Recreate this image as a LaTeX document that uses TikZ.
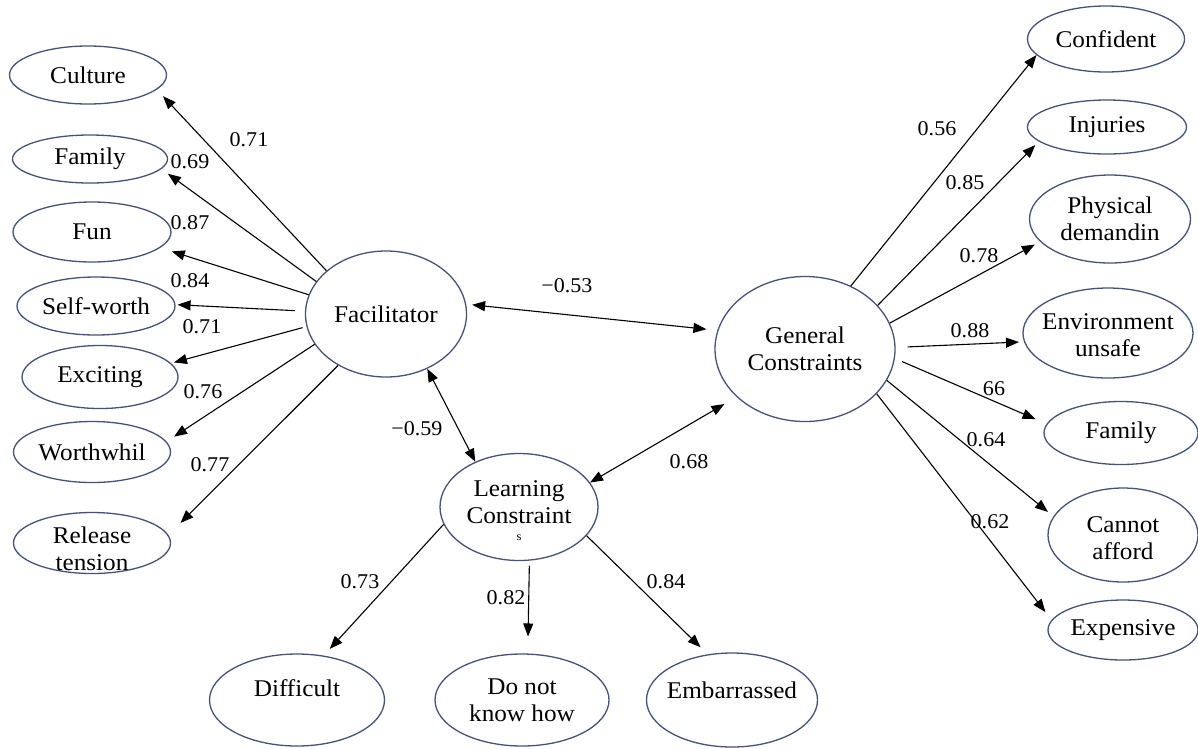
\documentclass[tikz,border=0pt]{standalone}
\usepackage{fontspec}
\setmainfont{Liberation Serif}[FakeStretch=1.05]
\usetikzlibrary{arrows.meta,shapes.geometric}
\definecolor{elc}{RGB}{68,84,120}
\begin{document}
\begin{tikzpicture}[x=1pt,y=-1pt,
  ell/.style 2 args={ellipse,draw=elc,line width=1.3pt,minimum width=#1,minimum height=#2,inner sep=0pt},
  lbl/.style={align=center,font=\fontsize{24}{26.5}\selectfont,inner sep=0pt},
  num/.style={font=\fontsize{21}{24}\selectfont,inner sep=0pt},
  arr/.style={-{Triangle[length=13pt,width=10pt]},line width=1.1pt},
  darr/.style={{Triangle[length=13pt,width=10pt]}-{Triangle[length=13pt,width=10pt]},line width=1.1pt}]
\fill[white] (0,0) rectangle (1198,748);
\useasboundingbox (0,0) rectangle (1198,748);

% left indicators
\node[ell={157}{58},label={[lbl]center:Culture}] (culture) at (88,75) {};
\node[ell={155}{48},label={[lbl]center:Family}] (famL) at (90,159) {};
\node[ell={158}{60},label={[lbl]center:Fun}] (fun) at (92,232) {};
\node[ell={158}{58},label={[lbl]center:Self-worth}] (self) at (96,306) {};
\node[ell={156}{63},label={[lbl]center:Exciting}] (exc) at (100,377) {};
\node[ell={157}{61},label={[lbl]center:Worthwhil}] (worth) at (92,452) {};
\node[ell={157}{61},label={[lbl,yshift=-6pt]center:{Release\\tension}}] (rel) at (92,543) {};

% latent variables
\node[ell={161}{126},label={[lbl]center:Facilitator}] (fac) at (386,314) {};
\node[ell={180}{145},label={[lbl]center:{General\\Constraints}}] (gen) at (805,349) {};
\node[ell={158}{107},label={[lbl,yshift=-4pt]center:{Learning\\Constraint\\[-9pt]{\fontsize{12}{12}\selectfont s}}}] (learn) at (519,507) {};

% bottom indicators
\node[ell={175}{92},label={[lbl,yshift=12pt]center:Difficult}] (diff) at (297,700) {};
\node[ell={174}{92},label={[lbl]center:{Do not\\know how}}] (dnk) at (522,700) {};
\node[ell={171}{94},label={[lbl,yshift=10pt]center:Embarrassed}] (emb) at (732,700) {};

% right indicators
\node[ell={157}{66},label={[lbl]center:Confident}] (conf) at (1106,39) {};
\node[ell={159}{54},label={[lbl]center:Injuries}] (inj) at (1107,127) {};
\node[ell={161}{88},label={[lbl]center:{Physical\\demandin}}] (phys) at (1110,219) {};
\node[ell={170}{90},label={[lbl,yshift=-2pt]center:{Environment\\unsafe}}] (env) at (1108,333) {};
\node[ell={154}{63},label={[lbl]center:Family}] (famR) at (1121,433) {};
\node[ell={150}{94},label={[lbl,yshift=-3pt]center:{Cannot\\afford}}] (cannot) at (1123,535) {};
\node[ell={150}{60},label={[lbl]center:Expensive}] (exp) at (1123,630) {};

% facilitator loadings
\draw[arr,shorten >=9pt] (fac.144) -- (culture.-12);
\draw[arr,shorten >=8pt] (fac.155) -- (famL.-8);
\draw[arr,shorten >=12pt] (fac.166) -- (fun.-13);
\draw[arr,shorten <=10pt,shorten >=2pt] (fac.178) -- (self.1);
\draw[arr,shorten <=4pt,shorten >=3pt] (fac.-171) -- (exc.11);
\draw[arr,shorten >=9pt] (fac.-157) -- (worth.8);
\draw[arr,shorten >=17pt] (fac.-133) -- (rel.6);

% correlations
\draw[darr,shorten <=6pt,shorten >=11pt] (fac.7) -- (gen.168);
\draw[darr] (fac.-53) -- (learn.134.5);
\draw[darr,shorten >=14pt] (learn.19) -- (gen.-145);

% learning constraints loadings
\draw[arr,shorten >=9pt] (learn.-167) -- (diff.59);
\draw[arr,shorten <=5pt,shorten >=17pt] (learn.-79) -- (dnk.83);
\draw[arr,shorten >=10pt] (learn.-23) -- (emb.118);

% general constraints loadings
\draw[arr] (gen.54) -- (conf.-167);
\draw[arr,shorten >=5pt] (gen.31) -- (inj.-168);
\draw[arr,shorten >=6pt] (gen.17) -- (phys.-162);
\draw[arr,shorten <=12pt,shorten >=5pt] (gen.1) -- (env.-174);
\draw[arr,shorten <=8pt,shorten >=12pt] (gen.-6) -- (famR.173);
\draw[arr,shorten >=7pt] (gen.-21) -- (cannot.165);
\draw[arr,shorten >=10pt] (gen.-32) -- (exp.172);

% numbers
\node[num] (n1) at (249,140) {0.71};
\node[num] (n2) at (190,162) {0.69};
\node[num] (n3) at (190,223) {0.87};
\node[num] (n4) at (190,281) {0.84};
\node[num] (n5) at (202,327) {0.71};
\node[num] (n6) at (203,392) {0.76};
\node[num] (n7) at (210,465) {0.77};
\node[num] (n8) at (567,286) {−0.53};
\node[num] (n9) at (417,429) {−0.59};
\node[num] (n10) at (689,462) {0.68};
\node[num] (n11) at (360,582) {0.73};
\node[num] (n12) at (506,598) {0.82};
\node[num] (n13) at (666,582) {0.84};
\node[num] (n14) at (937,129) {0.56};
\node[num] (n15) at (965,183) {0.85};
\node[num] (n16) at (979,256) {0.78};
\node[num] (n17) at (970,331) {0.88};
\node[num] (n18) at (994,389) {66};
\node[num] (n19) at (986,440) {0.64};
\node[num] (n20) at (990,522) {0.62};
\end{tikzpicture}
\end{document}
